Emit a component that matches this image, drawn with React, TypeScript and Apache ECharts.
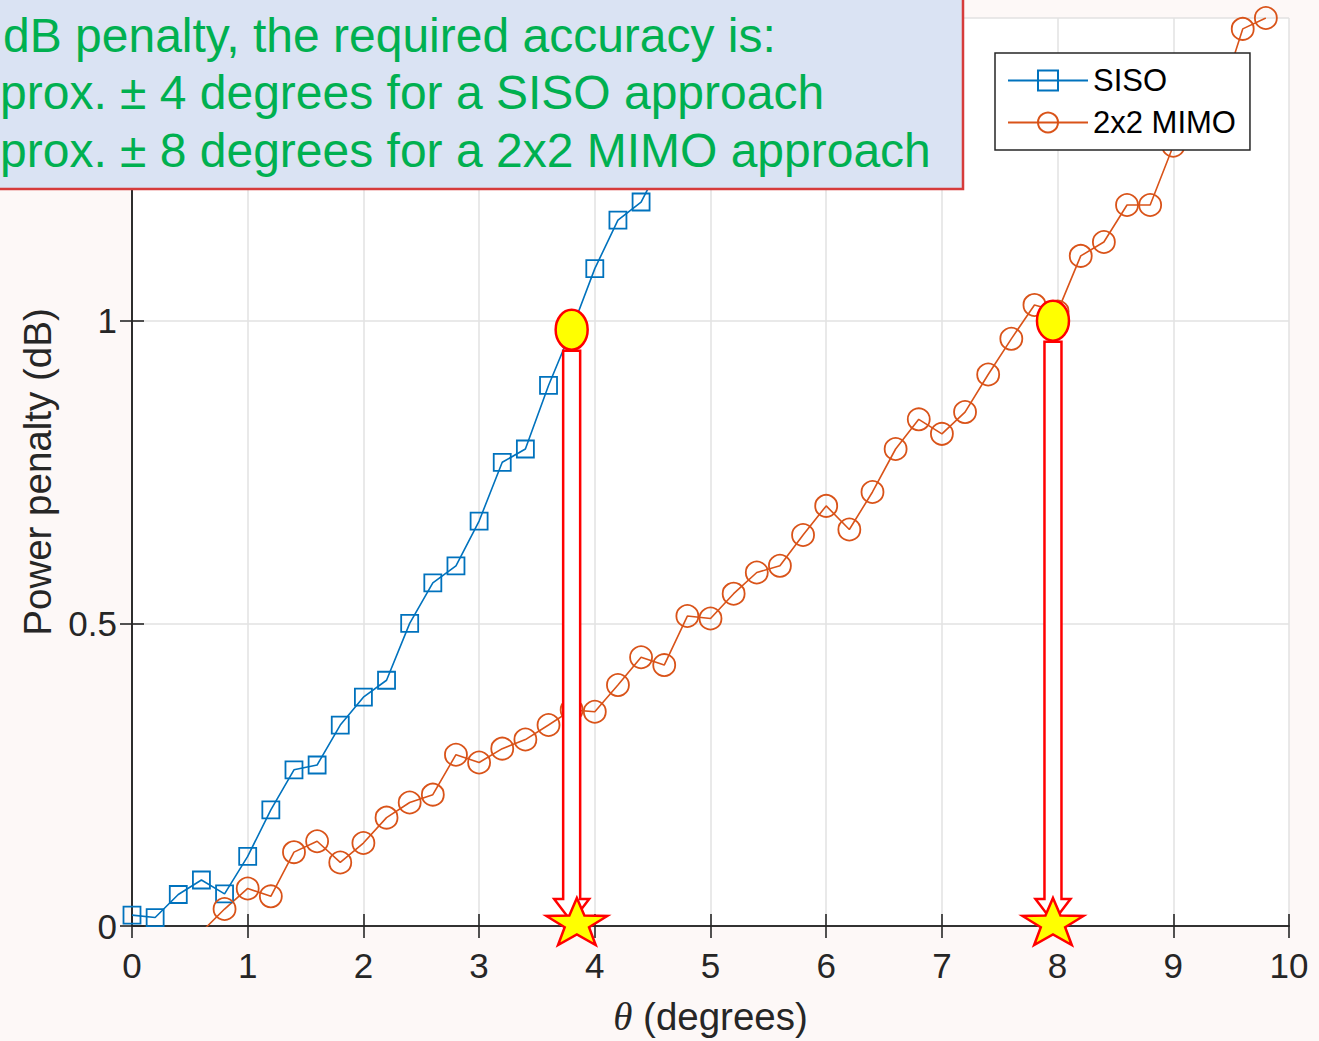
import React, { useEffect, useRef } from "react";
import * as echarts from "echarts";

// ---- data ----
const thetaSiso = [0, 0.2, 0.4, 0.6, 0.8, 1.0, 1.2, 1.4, 1.6, 1.8, 2.0, 2.2, 2.4, 2.6, 2.8, 3.0, 3.2, 3.4, 3.6, 3.8, 4.0, 4.2, 4.4, 4.6];
const penaltySiso = [0.018, 0.014, 0.052, 0.076, 0.053, 0.115, 0.192, 0.258, 0.266, 0.332, 0.378, 0.406, 0.5, 0.567, 0.595, 0.669, 0.766, 0.788, 0.893, 0.985, 1.086, 1.166, 1.196, 1.27];

const thetaMimo = [0.6, 0.8, 1.0, 1.2, 1.4, 1.6, 1.8, 2.0, 2.2, 2.4, 2.6, 2.8, 3.0, 3.2, 3.4, 3.6, 3.8, 4.0, 4.2, 4.4, 4.6, 4.8, 5.0, 5.2, 5.4, 5.6, 5.8, 6.0, 6.2, 6.4, 6.6, 6.8, 7.0, 7.2, 7.4, 7.6, 7.8, 8.0, 8.2, 8.4, 8.6, 8.8, 9.0, 9.2, 9.4, 9.6, 9.8];
const penaltyMimo = [-0.01, 0.028, 0.062, 0.049, 0.122, 0.14, 0.105, 0.137, 0.179, 0.204, 0.217, 0.283, 0.27, 0.293, 0.308, 0.332, 0.357, 0.354, 0.398, 0.444, 0.431, 0.512, 0.508, 0.549, 0.584, 0.595, 0.646, 0.694, 0.655, 0.717, 0.788, 0.837, 0.813, 0.849, 0.911, 0.97, 1.026, 1.015, 1.107, 1.13, 1.191, 1.191, 1.289, 1.31, 1.363, 1.482, 1.5];

const seriesNames = ["SISO", "2x2 MIMO"];
const xAxisTitle = "{t|θ} (degrees)";
const yAxisTitle = "Power penalty (dB)";

const noteLines = [
  "dB penalty, the required accuracy is:",
  "prox. ± 4 degrees for a SISO approach",
  "prox. ± 8 degrees for a 2x2 MIMO approach",
];

// highlighted 1 dB points (data coords) and where their arrows land on the θ axis
const highlightPoints = [
  [3.8, 0.985],
  [7.96, 1.0],
];
const landingPoints = [
  [3.845, 0],
  [7.96, 0],
];

const FONT = '"Liberation Sans", Arial, Helvetica, sans-serif';
const AXIS_COLOR = "#262626";

function starPoints(cx: number, cy: number, rx: number, ry: number, inner: number) {
  const pts: number[][] = [];
  for (let i = 0; i < 10; i++) {
    const ang = -Math.PI / 2 + (i * Math.PI) / 5;
    const f = i % 2 === 0 ? 1 : inner;
    pts.push([cx + Math.cos(ang) * rx * f, cy + Math.sin(ang) * ry * f]);
  }
  return pts;
}

export default function App() {
  const ref = useRef<HTMLDivElement>(null);

  useEffect(() => {
    if (!ref.current) return;
    const chart = echarts.init(ref.current, null, { renderer: "svg" });

    const sisoData = thetaSiso.map((x, i) => [x, penaltySiso[i]]);
    const mimoData = thetaMimo.map((x, i) => [x, penaltyMimo[i]]);

    const axisLine = { show: true, lineStyle: { color: AXIS_COLOR, width: 1.6 } };
    const axisTick = { show: true, inside: true, length: 12, lineStyle: { color: AXIS_COLOR, width: 1.6 } };
    const splitLine = { show: true, lineStyle: { color: "#e2e2e2", width: 1.5 } };

    chart.setOption({
      animation: false,
      backgroundColor: "#fdf8f7",
      grid: {
        left: 132,
        right: 30,
        top: 18,
        bottom: 111,
        show: true,
        backgroundColor: "#ffffff",
        borderWidth: 0,
      },
      xAxis: [
        {
          type: "value",
          min: 0,
          max: 10,
          interval: 1,
          position: "bottom",
          axisLine,
          axisTick,
          splitLine,
          axisLabel: { color: AXIS_COLOR, fontSize: 35, fontFamily: FONT, margin: 22 },
          name: xAxisTitle,
          nameLocation: "middle",
          nameGap: 71,
          nameTextStyle: {
            color: AXIS_COLOR,
            fontSize: 38.5,
            fontFamily: FONT,
            rich: { t: { fontStyle: "italic", fontFamily: '"Liberation Serif", "DejaVu Serif", serif', fontSize: 39, color: AXIS_COLOR } },
          },
        },
        {
          type: "value",
          min: 0,
          max: 10,
          interval: 1,
          position: "top",
          axisLine,
          axisTick,
          splitLine: { show: false },
          axisLabel: { show: false },
        },
      ],
      yAxis: [
        {
          type: "value",
          min: 0,
          max: 1.5,
          interval: 0.5,
          position: "left",
          axisLine,
          axisTick,
          splitLine,
          axisLabel: { color: AXIS_COLOR, fontSize: 35, fontFamily: FONT, margin: 15, showMaxLabel: false },
          name: yAxisTitle,
          nameLocation: "middle",
          nameGap: 75,
          nameTextStyle: { color: AXIS_COLOR, fontSize: 38.5, fontFamily: FONT },
        },
        {
          type: "value",
          min: 0,
          max: 1.5,
          interval: 0.5,
          position: "right",
          axisLine,
          axisTick,
          splitLine: { show: false },
          axisLabel: { show: false },
        },
      ],
      legend: {
        data: seriesNames,
        orient: "vertical",
        left: 995,
        top: 53,
        padding: [12, 14, 12, 12],
        itemGap: 11,
        itemWidth: 80,
        itemHeight: 25,
        backgroundColor: "#ffffff",
        borderColor: AXIS_COLOR,
        borderWidth: 1.5,
        textStyle: { color: "#000000", fontSize: 31, fontFamily: FONT },
        z: 6,
      },
      series: [
        {
          name: seriesNames[0],
          type: "line",
          data: sisoData,
          xAxisIndex: 0,
          yAxisIndex: 0,
          symbol: "rect",
          symbolSize: 17,
          showAllSymbol: true,
          clip: true,
          lineStyle: { color: "#0072BD", width: 1.6 },
          itemStyle: { color: "rgba(0,0,0,0)", borderColor: "#0072BD", borderWidth: 1.8 },
          emphasis: { disabled: true },
        },
        {
          name: seriesNames[1],
          type: "line",
          data: mimoData,
          xAxisIndex: 0,
          yAxisIndex: 0,
          symbol: "circle",
          symbolSize: 22,
          showAllSymbol: true,
          clip: true,
          lineStyle: { color: "#D95319", width: 1.6 },
          itemStyle: { color: "rgba(0,0,0,0)", borderColor: "#D95319", borderWidth: 1.8 },
          emphasis: { disabled: true },
        },
      ],
    });

    const graphics: any[] = [];
    highlightPoints.forEach((p, i) => {
      const [ex, ey] = chart.convertToPixel({ seriesIndex: 0 }, p) as number[];
      const [sx, sy] = chart.convertToPixel({ seriesIndex: 0 }, landingPoints[i]) as number[];
      const ax = ex;
      const top = ey + 21;
      const headBase = sy - 27;
      const tip = sy - 4;
      const hw = 8.5;
      const hh = 17.5;
      graphics.push({
        type: "polygon",
        z: 10,
        shape: {
          points: [
            [ax - hw, top],
            [ax + hw, top],
            [ax + hw, headBase],
            [ax + hh, headBase],
            [ax, tip],
            [ax - hh, headBase],
            [ax - hw, headBase],
          ],
        },
        style: { fill: "#ffffff", stroke: "#ff0000", lineWidth: 2.5 },
      });
      graphics.push({
        type: "ellipse",
        z: 11,
        shape: { cx: ex, cy: ey, rx: 16, ry: 20 },
        style: { fill: "#ffff00", stroke: "#ff0000", lineWidth: 2.5 },
      });
      graphics.push({
        type: "polygon",
        z: 12,
        shape: { points: starPoints(sx, sy - 2, 32, 26, 0.4) },
        style: { fill: "#ffff00", stroke: "#ff0000", lineWidth: 2.5 },
      });
    });

    graphics.push({
      type: "rect",
      z: 20,
      shape: { x: -10, y: -10, width: 973, height: 199 },
      style: { fill: "#dae3f3", stroke: "#d63b3b", lineWidth: 2.5 },
    });
    const noteLeft = [3, 0, 0];
    const noteY = [35, 92, 150];
    noteLines.forEach((t, i) => {
      graphics.push({
        type: "text",
        z: 21,
        x: noteLeft[i],
        y: noteY[i],
        style: {
          text: t,
          fill: "#00b050",
          fontSize: 48,
          fontFamily: FONT,
          align: "left",
          verticalAlign: "middle",
        },
      });
    });

    chart.setOption({ graphic: graphics });

    return () => {
      chart.dispose();
    };
  }, []);

  return (
    <div
      ref={ref}
      style={{ position: "absolute", left: 0, top: 0, width: 1319, height: 1041 }}
    />
  );
}
